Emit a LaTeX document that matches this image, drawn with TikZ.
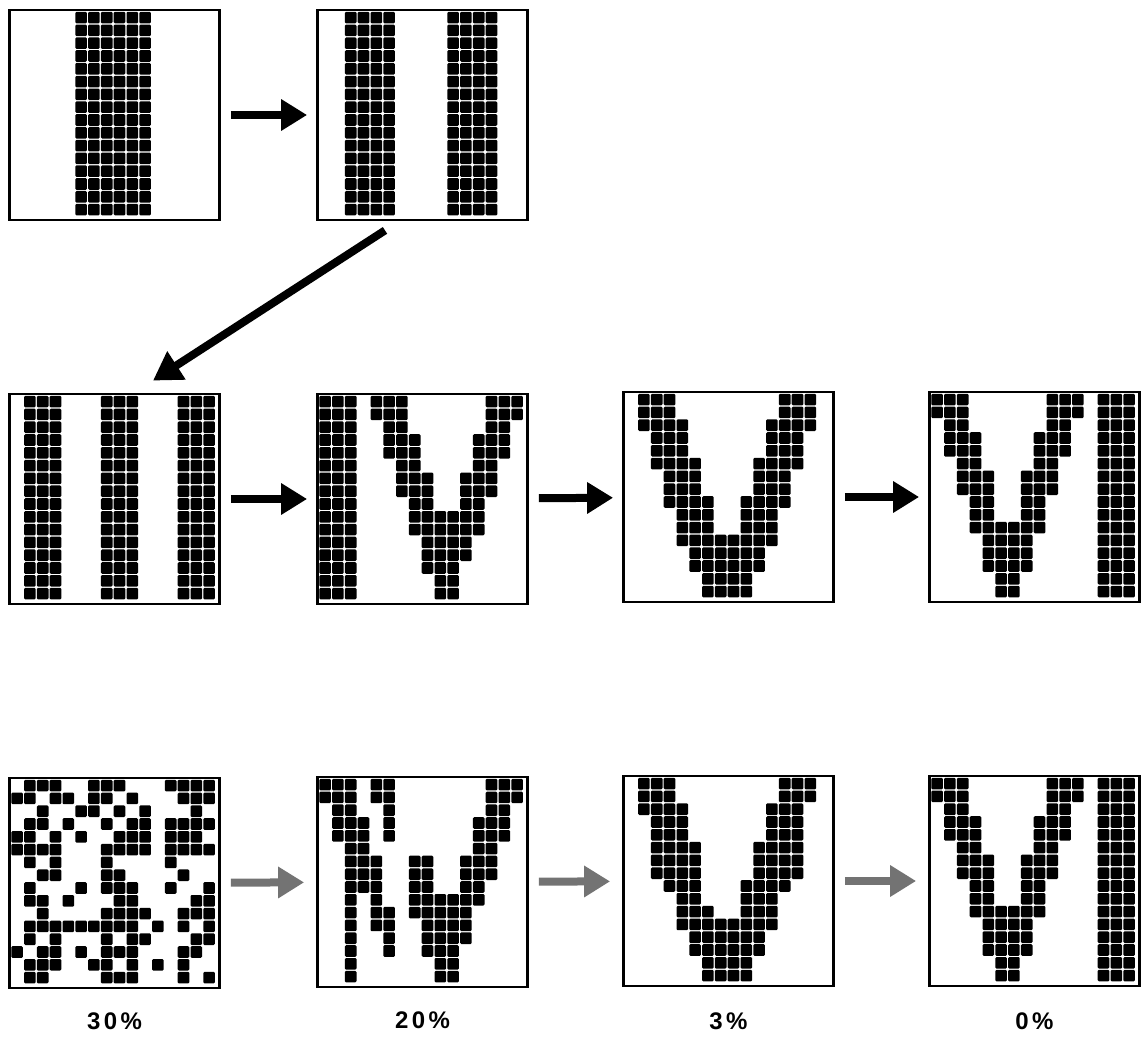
\documentclass[tikz,border=0pt]{standalone}
\usepackage{fontspec}
\setmainfont{Liberation Sans}
\usepackage{tikz}
\usetikzlibrary{arrows.meta, positioning}

\tikzset{
  panel/.style={draw, line width=2.8pt, minimum width=210pt, minimum height=210pt, inner sep=0pt},
  pix/.style={fill=black, rounded corners=1.2pt},
  bigarrow/.style={line width=8pt, -{Triangle[length=26pt,width=30pt]}, shorten <=10pt, shorten >=9pt},
  greyarrow/.style={line width=8pt, black!55, -{Triangle[length=26pt,width=30pt]}, shorten <=10pt, shorten >=12pt},
  pct/.style={font=\addfontfeatures{LetterSpace=14}\fontsize{24}{26}\selectfont\bfseries}
}

% one black pixel of the 16x16 grid in a panel
\newcommand{\pixel}[3]{\fill[pix] ([shift={(3.2+#2*12.8, 3.2+#3*12.8)}]#1.north west) rectangle ++(11.6,11.6);}
% full columns
\newcommand{\pixcols}[2]{\foreach \c in {#2} {\foreach \r in {0,...,15} {\pixel{#1}{\c}{\r}}}}
% row by row: r/{cols}
\newcommand{\pixrows}[2]{\foreach \r/\cs in {#2} {\foreach \c in \cs {\pixel{#1}{\c}{\r}}}}

\begin{document}
\begin{tikzpicture}[x=1pt, y=-1pt]
\useasboundingbox (0,0) rectangle (1144,1046);

\node[panel] (p1) at (114.5,115) {};
\node[panel] (p2) at (422.5,115) {};
\node[panel] (p3) at (114.5,499) {};
\node[panel] (p4) at (422.5,499) {};
\node[panel] (p5) at (728.5,497) {};
\node[panel] (p6) at (1034.5,497) {};
\node[panel] (p7) at (114.5,883) {};
\node[panel] (p8) at (422.5,882) {};
\node[panel] (p9) at (728.5,881) {};
\node[panel] (p10) at (1034.5,881) {};

\pixcols{p1}{5,6,7,8,9,10}
\pixcols{p2}{2,3,4,5,10,11,12,13}
\pixcols{p3}{1,2,3,7,8,9,13,14,15}

\pixcols{p4}{0,1,2}
\pixrows{p4}{0/{4,5,6,13,14,15}, 1/{4,5,6,13,14,15}, 2/{5,6,13,14}, 3/{5,6,7,12,13,14},
  4/{5,6,7,12,13,14}, 5/{6,7,12,13}, 6/{6,7,8,11,12,13}, 7/{6,7,8,11,12,13},
  8/{7,8,11,12}, 9/{7,8,9,10,11,12}, 10/{7,8,9,10,11,12}, 11/{8,9,10,11}, 12/{8,9,10,11},
  13/{8,9,10}, 14/{9,10}, 15/{9,10}}

\pixrows{p5}{0/{1,2,3,12,13,14}, 1/{1,2,3,12,13,14}, 2/{1,2,3,4,11,12,13,14}, 3/{2,3,4,11,12,13},
  4/{2,3,4,11,12,13}, 5/{2,3,4,5,10,11,12,13}, 6/{3,4,5,10,11,12}, 7/{3,4,5,10,11,12},
  8/{3,4,5,6,9,10,11,12}, 9/{4,5,6,9,10,11}, 10/{4,5,6,9,10,11}, 11/{4,5,6,7,8,9,10,11},
  12/{5,6,7,8,9,10}, 13/{5,6,7,8,9,10}, 14/{6,7,8,9}, 15/{6,7,8,9}}

\pixcols{p6}{13,14,15}
\pixrows{p6}{0/{0,1,2,9,10,11}, 1/{0,1,2,9,10,11}, 2/{1,2,9,10}, 3/{1,2,3,8,9,10},
  4/{1,2,3,8,9,10}, 5/{2,3,8,9}, 6/{2,3,4,7,8,9}, 7/{2,3,4,7,8,9},
  8/{3,4,7,8}, 9/{3,4,7,8}, 10/{3,4,5,6,7,8}, 11/{4,5,6,7}, 12/{4,5,6,7},
  13/{4,5,6,7}, 14/{5,6}, 15/{5,6}}

\pixrows{p7}{0/{1,2,3,6,7,8,12,13,14,15}, 1/{0,1,3,4,6,7,9,13,14,15}, 2/{2,5,6,8,10,14},
  3/{1,2,4,7,9,10,12,13,14,15}, 4/{0,1,3,5,8,9,10,12,13,14}, 5/{0,1,2,3,7,8,9,10,12,13,14,15},
  6/{1,3,7,12}, 7/{2,3,7,8,13}, 8/{1,5,7,8,9,12,15}, 9/{1,2,4,8,9,14,15},
  10/{2,7,8,9,10,13,14,15}, 11/{1,2,3,4,5,6,7,8,9,11,13,15}, 12/{1,3,7,9,10,14,15},
  13/{0,2,3,5,7,8,9,13,14}, 14/{1,2,3,6,7,9,11,13}, 15/{1,2,7,8,9,13,15}}

\pixrows{p8}{0/{0,1,2,4,5,13,14,15}, 1/{0,1,2,4,5,13,14,15}, 2/{1,2,5,13,14}, 3/{1,2,3,5,12,13,14},
  4/{1,2,3,5,12,13,14}, 5/{2,3,12,13}, 6/{2,3,4,7,8,11,12,13}, 7/{2,3,4,7,8,11,12,13},
  8/{2,3,4,7,8,11,12}, 9/{2,4,7,8,9,10,11,12}, 10/{2,4,5,7,8,9,10,11}, 11/{2,4,5,8,9,10,11},
  12/{2,5,8,9,10,11}, 13/{2,5,8,9,10}, 14/{2,9,10}, 15/{2,9,10}}

\pixrows{p9}{0/{1,2,3,12,13,14}, 1/{1,2,3,12,13,14}, 2/{1,2,3,4,11,12,13}, 3/{2,3,4,11,12,13},
  4/{2,3,4,11,12,13}, 5/{2,3,4,5,10,11,12,13}, 6/{2,3,4,5,10,11,12,13}, 7/{2,3,4,5,10,11,12,13},
  8/{3,4,5,9,10,11,12}, 9/{4,5,9,10,11}, 10/{4,5,6,9,10,11}, 11/{4,5,6,7,8,9,10,11},
  12/{5,6,7,8,9,10}, 13/{5,6,7,8,9,10}, 14/{6,7,8,9}, 15/{6,7,8,9}}

\pixcols{p10}{13,14,15}
\pixrows{p10}{0/{0,1,2,9,10,11}, 1/{0,1,2,9,10,11}, 2/{1,2,9,10}, 3/{1,2,3,8,9,10},
  4/{1,2,3,8,9,10}, 5/{2,3,8,9}, 6/{2,3,4,7,8,9}, 7/{2,3,4,7,8,9},
  8/{3,4,7,8}, 9/{3,4,7,8}, 10/{3,4,5,6,7,8}, 11/{4,5,6,7}, 12/{4,5,6,7},
  13/{4,5,6,7}, 14/{5,6}, 15/{5,6}}

\draw[bigarrow] (p1) -- (p2);
\draw[line width=8pt, -{Triangle[length=28pt,width=32pt]}] ([shift={(-37.5,9)}]p2.south) -- ([shift={(38.5,-12)}]p3.north);
\draw[bigarrow] (p3) -- (p4);
\draw[bigarrow] (p4) -- (p5);
\draw[bigarrow] (p5) -- (p6);
\draw[greyarrow] (p7) -- (p8);
\draw[greyarrow] (p8) -- (p9);
\draw[greyarrow] (p9) -- (p10);

\node[pct, below=20pt of p7] (l7) {30\%};
\node[pct, below=20pt of p8] (l8) {20\%};
\node[pct, below=22pt of p9] (l9) {3\%};
\node[pct, below=22pt of p10] (l10) {0\%};
\end{tikzpicture}
\end{document}
